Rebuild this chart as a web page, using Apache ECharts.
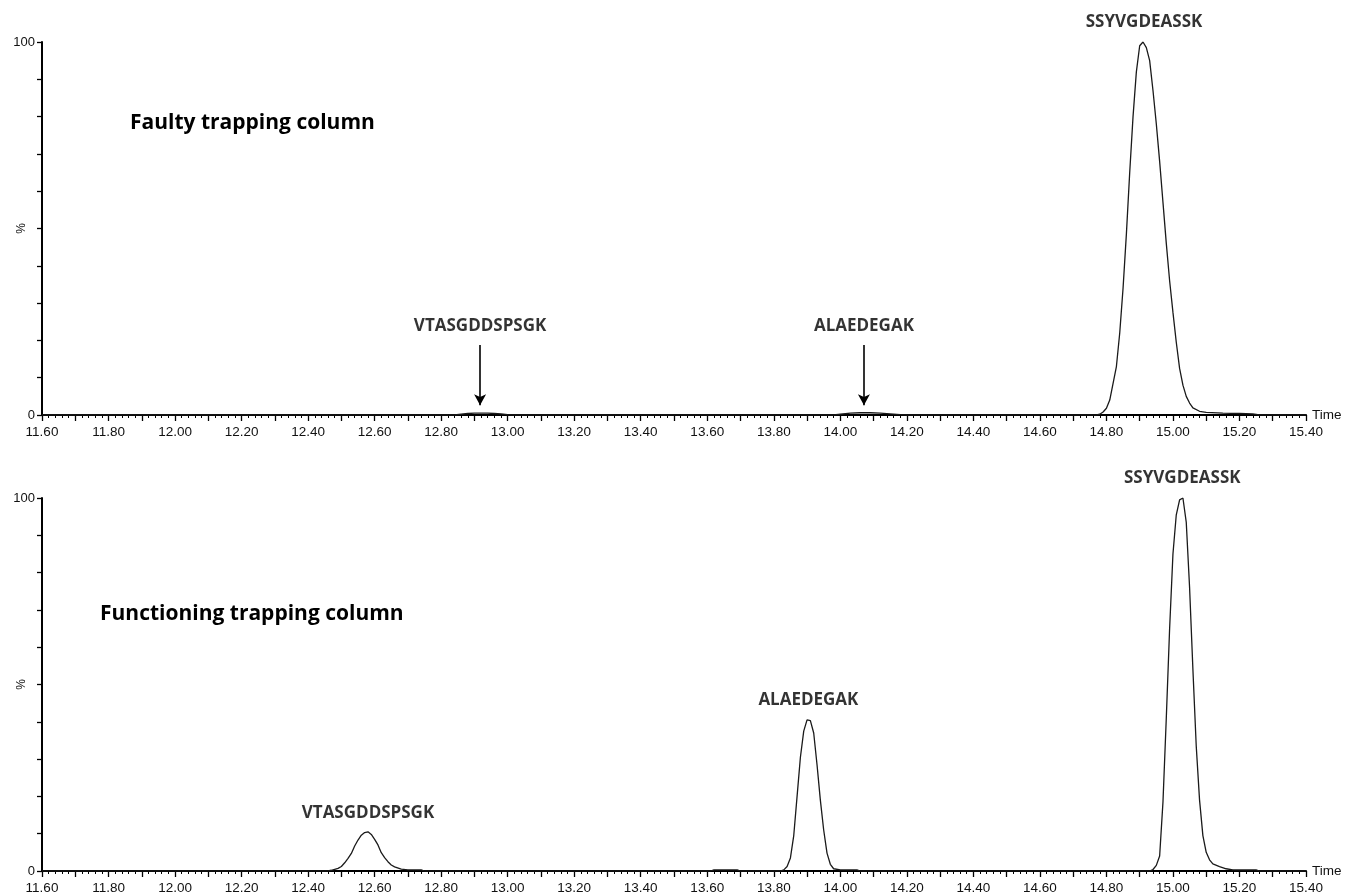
<!DOCTYPE html>
<html>
<head>
<meta charset="utf-8">
<script src="https://cdn.jsdelivr.net/npm/echarts@6/dist/echarts.min.js"></script>
<style>html,body{margin:0;padding:0;background:#fff}#c{width:1345px;height:896px}</style>
</head>
<body>
<div id="c"></div>
<script>
// ---- data ----
const topTime = [11.60, 12.84, 12.86, 12.88, 12.90, 12.92, 12.94, 12.96, 12.98, 13.00, 13.02,
  13.98, 14.00, 14.03, 14.06, 14.09, 14.12, 14.15, 14.18, 14.20,
  14.77, 14.78, 14.79, 14.80, 14.81, 14.82, 14.83, 14.84, 14.85, 14.86, 14.87, 14.88, 14.89, 14.90, 14.91,
  14.92, 14.93, 14.94, 14.95, 14.96, 14.97, 14.98, 14.99, 15.00, 15.01, 15.02, 15.03, 15.04, 15.05, 15.06,
  15.08, 15.10, 15.15, 15.20, 15.24, 15.26, 15.40];
const topIntensity = [0, 0, 0.2, 0.4, 0.5, 0.5, 0.5, 0.4, 0.3, 0.1, 0,
  0, 0.2, 0.5, 0.6, 0.6, 0.5, 0.3, 0.1, 0,
  0, 0.2, 0.8, 1.8, 4, 8.5, 13, 22, 34, 48.5, 65, 80, 92, 99, 100,
  98.5, 95, 87, 78, 68, 57, 46, 36, 27.5, 19.5, 12.5, 8, 5, 3.2, 1.9,
  1.0, 0.7, 0.5, 0.4, 0.3, 0, 0];

const bottomTime = [11.60, 12.46, 12.47, 12.49, 12.50, 12.51, 12.52, 12.53, 12.54, 12.55, 12.56, 12.57, 12.58,
  12.59, 12.60, 12.61, 12.62, 12.63, 12.64, 12.65, 12.66, 12.68, 12.70, 12.74, 12.75,
  13.61, 13.62, 13.69, 13.70,
  13.82, 13.83, 13.84, 13.85, 13.86, 13.87, 13.88, 13.89, 13.90, 13.91, 13.92, 13.93, 13.94, 13.95, 13.96,
  13.97, 13.98, 14.00, 14.05, 14.06,
  14.93, 14.94, 14.95, 14.96, 14.97, 14.98, 14.99, 15.00, 15.01, 15.02, 15.03, 15.04, 15.05, 15.06, 15.07,
  15.08, 15.09, 15.10, 15.11, 15.12, 15.14, 15.16, 15.18, 15.25, 15.26, 15.40];
const bottomIntensity = [0, 0, 0.2, 0.7, 1.2, 2.2, 3.4, 4.7, 6.7, 8.3, 9.6, 10.3, 10.5,
  9.8, 8.5, 7.0, 4.9, 3.6, 2.5, 1.6, 1.1, 0.5, 0.3, 0.3, 0,
  0, 0.3, 0.3, 0,
  0, 0.3, 1.2, 3.5, 9.5, 20, 30.5, 37.5, 40.5, 40.3, 37, 28.5, 19, 11, 4.8,
  1.8, 0.6, 0.3, 0.3, 0,
  0, 0.4, 1.5, 4, 18.5, 41, 65, 85, 95.5, 99.5, 100, 93.5, 76, 54, 33.5,
  19, 9.5, 5, 3, 1.9, 1.2, 0.6, 0.3, 0.3, 0, 0];

const topLabels = ['VTASGDDSPSGK', 'ALAEDEGAK', 'SSYVGDEASSK'];
const topLabelTime = [12.917, 14.071, 14.913];
const topLabelY = [23.9, 23.9, 105.4];
const arrowTime = [12.917, 14.071];
const arrowFrom = [18.8, 18.8];
const arrowTo = [2.6, 2.6];

const bottomLabels = ['VTASGDDSPSGK', 'ALAEDEGAK', 'SSYVGDEASSK'];
const bottomLabelTime = [12.580, 13.904, 15.028];
const bottomLabelY = [15.5, 45.8, 105.4];

const panelTitles = ['Faulty trapping column', 'Functioning trapping column'];
const xMin = 11.60, xMax = 15.40;

// ---- chart ----
const chart = echarts.init(document.getElementById('c'), null, {renderer: 'canvas'});
const grids = [
  {left: 42, right: 39, top: 42, height: 373, containLabel: false, outerBoundsMode: 'none'},
  {left: 42, right: 39, top: 498, height: 373, containLabel: false, outerBoundsMode: 'none'}
];
function xAxis(i) {
  return {
    type: 'value', gridIndex: i, min: xMin, max: xMax, interval: 0.1,
    name: 'Time', nameLocation: 'end', nameGap: 6, nameMoveOverlap: false,
    nameTextStyle: {fontFamily: 'Liberation Sans', fontSize: 13.5, color: '#111', verticalAlign: 'middle', padding: [10,0,0,0]},
    axisLine: {show: true, lineStyle: {color: '#000', width: 2}},
    axisTick: {show: true, inside: false, length: 6, lineStyle: {color: '#000', width: 1.3}},
    minorTick: {show: true, splitNumber: 5, length: 3, lineStyle: {color: '#000', width: 1}},
    splitLine: {show: false}, minorSplitLine: {show: false},
    axisLabel: {
      fontFamily: 'Liberation Sans', fontSize: 13.5, color: '#111', margin: 10, showMinLabel: true, showMaxLabel: true,
      formatter: v => (Math.round(v * 100) % 20 === 0) ? v.toFixed(2) : ''
    }
  };
}
function yAxis(i) {
  return {
    type: 'value', gridIndex: i, min: 0, max: 100, interval: 10,
    name: '%', nameLocation: 'middle', nameGap: 14, nameRotate: 90, nameMoveOverlap: false,
    nameTextStyle: {fontFamily: 'Liberation Sans', fontSize: 12, color: '#111'},
    axisLine: {show: true, lineStyle: {color: '#000', width: 2}},
    axisTick: {show: true, length: 5, lineStyle: {color: '#000', width: 1.3}},
    splitLine: {show: false},
    axisLabel: {
      fontFamily: 'Liberation Sans', fontSize: 13, color: '#111', margin: 7,
      formatter: v => (v === 0 || v === 100) ? String(v) : ''
    }
  };
}
const labelFont = {fontFamily: 'Open Sans', fontWeight: 'bold', fontSize: 17, color: '#000'};
function labelSeries(i, names, times, ys) {
  return {
    type: 'scatter', xAxisIndex: i, yAxisIndex: i, clip: false, silent: true,
    symbolSize: 1, itemStyle: {color: 'rgba(0,0,0,0)'},
    data: names.map((n, k) => ({value: [times[k], ys[k]], name: n})),
    label: Object.assign({show: true, position: 'inside', formatter: p => p.name}, labelFont),
    z: 5
  };
}
const traceStyle = {color: '#1a1a1a', width: 1.3};

chart.setOption({
  animation: false,
  backgroundColor: '#fff',
  title: [
    {text: panelTitles[0], left: 125, top: 108, textStyle: {fontFamily: 'Open Sans', fontWeight: 'bold', fontSize: 21, color: '#000'}},
    {text: panelTitles[1], left: 95, top: 599, textStyle: {fontFamily: 'Open Sans', fontWeight: 'bold', fontSize: 21, color: '#000'}}
  ],
  grid: grids,
  xAxis: [xAxis(0), xAxis(1)],
  yAxis: [yAxis(0), yAxis(1)],
  series: [
    {
      type: 'line', xAxisIndex: 0, yAxisIndex: 0, showSymbol: false, symbol: 'none',
      lineStyle: traceStyle, z: 3,
      data: topTime.map((t, k) => [t, topIntensity[k]]),
      markLine: {
        silent: true, symbol: ['none', 'arrow'], symbolSize: [9, 11],
        label: {show: false},
        lineStyle: {color: '#000', width: 1.6, type: 'solid'},
        data: arrowTime.map((t, k) => [{coord: [t, arrowFrom[k]]}, {coord: [t, arrowTo[k]]}])
      }
    },
    {
      type: 'line', xAxisIndex: 1, yAxisIndex: 1, showSymbol: false, symbol: 'none',
      lineStyle: traceStyle, z: 3,
      data: bottomTime.map((t, k) => [t, bottomIntensity[k]])
    },
    labelSeries(0, topLabels, topLabelTime, topLabelY),
    labelSeries(1, bottomLabels, bottomLabelTime, bottomLabelY)
  ]
});
</script>
</body>
</html>
